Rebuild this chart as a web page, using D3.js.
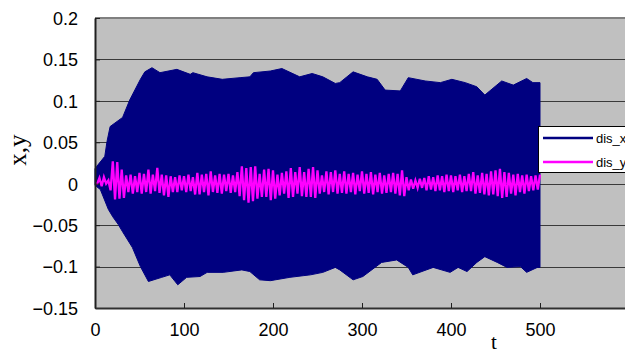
<!DOCTYPE html>
<html lang="en">
<head>
<meta charset="utf-8">
<script src="https://d3js.org/d3.v7.min.js"></script>
<style type="text/css">
body { margin: 0; background: #fff; }
.tick-label { font: 18px "Liberation Sans", Arial, sans-serif; fill: #000; }
.grid { stroke: #3a3a3a; stroke-width: 1; shape-rendering: crispEdges; }
.legend text { font: 13px "Liberation Sans", Arial, sans-serif; }
</style>
</head>
<body>
<script type="text/javascript">
// x-axis ticks / y-axis ticks
var tTicks = [0, 100, 200, 300, 400, 500];
var yTicks = [-0.15, -0.1, -0.05, 0, 0.05, 0.1, 0.15, 0.2];

// dis_x is a fast oscillation, so keep its read-off envelope (t, value)
var disxUpperT = [0, 2, 11, 13.5, 17, 31, 39, 51, 56, 64, 73, 92, 107, 110, 126, 143, 163, 174, 178, 197, 210, 230, 244, 256, 270, 275, 290, 306, 317, 326, 343, 352, 371, 388, 401, 416, 429, 438, 457, 470, 485, 492, 500];
var disxUpperV = [0.018, 0.021, 0.033, 0.051, 0.069, 0.080, 0.101, 0.126, 0.135, 0.140, 0.134, 0.138, 0.132, 0.134, 0.129, 0.126, 0.128, 0.129, 0.134, 0.136, 0.139, 0.129, 0.133, 0.129, 0.121, 0.122, 0.135, 0.129, 0.126, 0.113, 0.112, 0.128, 0.124, 0.122, 0.126, 0.122, 0.117, 0.107, 0.124, 0.119, 0.127, 0.122, 0.122];
var disxLowerT = [0, 6, 15, 20, 26, 31, 42, 51, 60, 75, 84, 93, 103, 118, 126, 144, 165, 174, 185, 197, 219, 234, 242, 256, 270, 275, 290, 301, 322, 339, 352, 357, 380, 399, 408, 418, 429, 438, 452, 463, 478, 485, 497, 500];
var disxLowerV = [-0.002, -0.007, -0.031, -0.040, -0.049, -0.058, -0.077, -0.100, -0.118, -0.113, -0.110, -0.122, -0.113, -0.112, -0.107, -0.107, -0.104, -0.106, -0.116, -0.117, -0.113, -0.111, -0.110, -0.107, -0.101, -0.104, -0.116, -0.112, -0.095, -0.092, -0.101, -0.110, -0.101, -0.107, -0.101, -0.106, -0.095, -0.088, -0.095, -0.101, -0.100, -0.107, -0.101, -0.101];

// dis_y spikes, one max/min pair every 5 time units
var disyT = d3.range(0, 501, 5);
var disyHi = [0, 0.007, 0.008, 0.004, 0.027, 0.026, 0.017, 0.010, 0.011, 0.009, 0.013, 0.012, 0.017, 0.011, 0.019, 0.011, 0.010, 0.009, 0.008, 0.010, 0.009, 0.011, 0.008, 0.013, 0.011, 0.012, 0.015, 0.010, 0.012, 0.011, 0.012, 0.010, 0.014, 0.021, 0.019, 0.020, 0.021, 0.012, 0.017, 0.018, 0.016, 0.011, 0.013, 0.015, 0.019, 0.014, 0.020, 0.014, 0.018, 0.020, 0.016, 0.010, 0.015, 0.014, 0.016, 0.012, 0.015, 0.012, 0.013, 0.011, 0.015, 0.012, 0.014, 0.011, 0.013, 0.010, 0.012, 0.013, 0.012, 0.016, 0.008, 0.005, 0.004, 0.006, 0.007, 0.009, 0.008, 0.010, 0.009, 0.011, 0.010, 0.009, 0.011, 0.009, 0.012, 0.014, 0.010, 0.013, 0.012, 0.015, 0.016, 0.018, 0.014, 0.013, 0.011, 0.012, 0.010, 0.011, 0.009, 0.010, 0.011];
var disyLo = [0, -0.003, 0.000, -0.008, -0.019, -0.018, -0.017, -0.010, -0.012, -0.010, -0.012, -0.010, -0.012, -0.009, -0.011, -0.014, -0.016, -0.010, -0.010, -0.008, -0.010, -0.009, -0.013, -0.013, -0.010, -0.014, -0.010, -0.011, -0.012, -0.009, -0.011, -0.010, -0.015, -0.020, -0.023, -0.021, -0.018, -0.016, -0.016, -0.020, -0.018, -0.014, -0.012, -0.017, -0.016, -0.012, -0.015, -0.016, -0.016, -0.017, -0.012, -0.010, -0.013, -0.010, -0.012, -0.011, -0.012, -0.010, -0.013, -0.009, -0.012, -0.011, -0.013, -0.010, -0.012, -0.011, -0.010, -0.012, -0.014, -0.015, -0.008, -0.006, -0.005, -0.005, -0.008, -0.007, -0.009, -0.008, -0.010, -0.009, -0.010, -0.008, -0.010, -0.009, -0.009, -0.012, -0.011, -0.013, -0.014, -0.013, -0.015, -0.017, -0.016, -0.012, -0.014, -0.010, -0.012, -0.009, -0.008, -0.007, -0.003];

var seriesNames = ["dis_x", "dis_y"];
var seriesColors = ["#000080", "#FF00FF"];

var W = 625, H = 356;
var plot = {left: 95, top: 18, bottom: 308};

var x = d3.scaleLinear().domain([0, 600]).range([plot.left, plot.left + 534]);
var y = d3.scaleLinear().domain([-0.15, 0.2]).range([plot.bottom, plot.top]);

var svg = d3.select("body").append("svg")
    .attr("width", W)
    .attr("height", H);

// plot background
svg.append("rect")
    .attr("x", plot.left)
    .attr("y", plot.top)
    .attr("width", W - plot.left)
    .attr("height", plot.bottom - plot.top)
    .attr("fill", "#C0C0C0");

// horizontal gridlines
svg.selectAll(".grid")
    .data(yTicks.filter(function(d) { return d > -0.15 && d < 0.2; }))
    .enter().append("line")
    .attr("class", "grid")
    .attr("x1", plot.left)
    .attr("x2", W)
    .attr("y1", function(d) { return Math.round(y(d)) + 0.5; })
    .attr("y2", function(d) { return Math.round(y(d)) + 0.5; });

// dis_x: band between envelopes
var upper = disxUpperT.map(function(t, i) { return [t, disxUpperV[i]]; });
var lower = disxLowerT.map(function(t, i) { return [t, disxLowerV[i]]; }).reverse();
var band = d3.line()
    .x(function(d) { return x(d[0]); })
    .y(function(d) { return y(d[1]); });

svg.append("path")
    .attr("d", band(upper.concat(lower)) + "Z")
    .attr("fill", seriesColors[0])
    .attr("stroke", seriesColors[0])
    .attr("stroke-width", 1);

// dis_y: zigzag through max/min of each spike
var zig = [];
disyT.forEach(function(t, i) {
  zig.push([t, disyHi[i]]);
  if (i < disyT.length - 1) zig.push([t + 2.5, disyLo[i]]);
});

svg.append("path")
    .datum(zig)
    .attr("d", band)
    .attr("fill", "none")
    .attr("stroke", seriesColors[1])
    .attr("stroke-width", 2.3)
    .attr("stroke-linejoin", "miter");

// top border
svg.append("line")
    .attr("x1", plot.left).attr("x2", W)
    .attr("y1", plot.top).attr("y2", plot.top)
    .attr("stroke", "#808080").attr("stroke-width", 2);

// y axis
var yAxis = svg.append("g")
    .attr("transform", "translate(" + plot.left + ",0)")
    .call(d3.axisLeft(y).tickValues(yTicks).tickSizeInner(-5).tickSizeOuter(0)
      .tickFormat(function(d) { return d3.format("")(+d.toFixed(2)).replace("-", "\u2212"); }));
yAxis.select(".domain").attr("stroke", "#202020").attr("stroke-width", 2);
yAxis.selectAll(".tick line").attr("stroke", "#202020");
yAxis.selectAll(".tick text")
    .attr("class", "tick-label")
    .attr("x", -17)
    .attr("dy", "0.35em");

// x axis
var xAxis = svg.append("g")
    .attr("transform", "translate(0," + plot.bottom + ")")
    .call(d3.axisBottom(x).tickValues(tTicks).tickSizeInner(-5).tickSizeOuter(0));
xAxis.select(".domain").attr("stroke", "#303030").attr("stroke-width", 2);
xAxis.selectAll(".tick line").attr("stroke", "#202020");
xAxis.selectAll(".tick text")
    .attr("class", "tick-label")
    .attr("y", 28)
    .attr("dy", "0");
yAxis.attr("font-size", null).attr("font-family", null);
xAxis.attr("font-size", null).attr("font-family", null);

// axis titles
svg.append("text")
    .attr("transform", "translate(26,150) rotate(-90)")
    .attr("text-anchor", "middle")
    .style("font-family", "'Liberation Serif', 'Times New Roman', serif")
    .style("font-size", "25px")
    .text("x,y");

svg.append("text")
    .attr("x", 494)
    .attr("y", 349)
    .attr("text-anchor", "middle")
    .style("font-family", "'Liberation Serif', 'Times New Roman', serif")
    .style("font-size", "21px")
    .text("t");

// legend
var legend = svg.append("g").attr("class", "legend");
legend.append("rect")
    .attr("x", 538.5).attr("y", 126.5)
    .attr("width", 100).attr("height", 46)
    .attr("fill", "#fff").attr("stroke", "#000");

seriesNames.forEach(function(name, i) {
  var ly = 138 + i * 24;
  legend.append("line")
      .attr("x1", 543).attr("x2", 593)
      .attr("y1", ly).attr("y2", ly)
      .attr("stroke", seriesColors[i])
      .attr("stroke-width", 2.5);
  legend.append("text")
      .attr("x", 596)
      .attr("y", ly + 4.5)
      .text(name);
});
</script>
</body>
</html>
